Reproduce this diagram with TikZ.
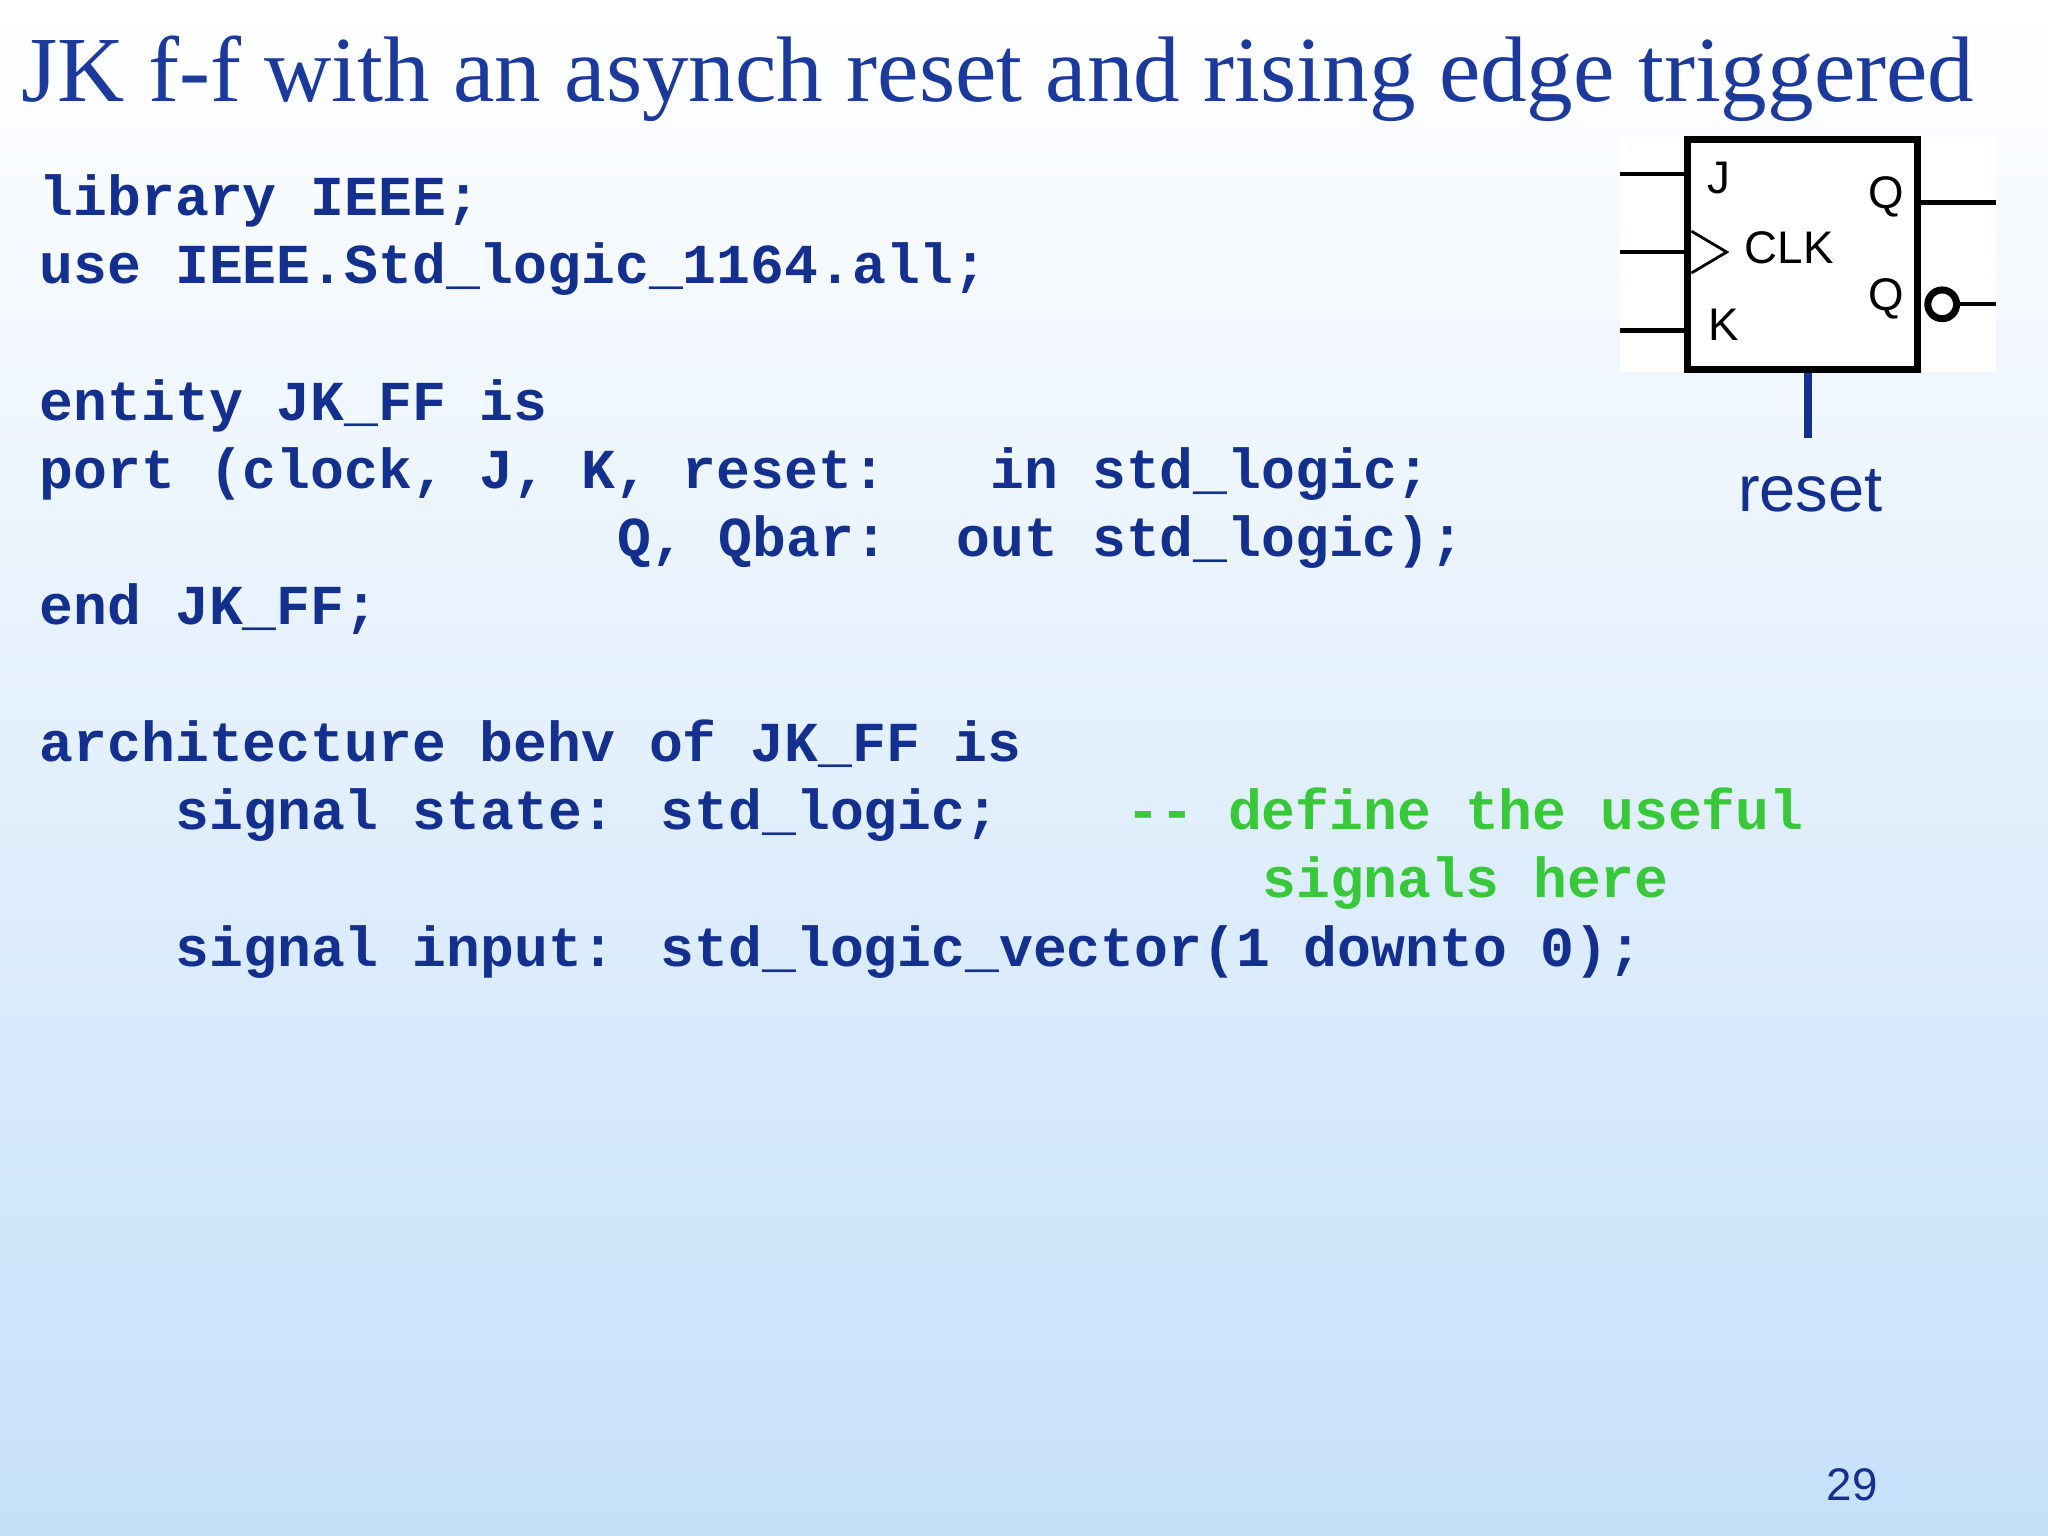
\documentclass[tikz,border=0pt]{standalone}
\usepackage{fontspec}
\setmainfont{Liberation Serif}
\newfontfamily\codefont{Liberation Mono}
\newfontfamily\sansf{Liberation Sans}
\definecolor{navy}{HTML}{14308F}
\definecolor{ttl}{HTML}{1C3A9C}
\definecolor{cmt}{HTML}{38C83A}
\definecolor{bgb}{HTML}{C6E0FA}
\begin{document}
\begin{tikzpicture}[x=0.01306cm,y=-0.01306cm,
  code/.style={anchor=base west,inner sep=0,font=\codefont\bfseries\fontsize{16.05pt}{18pt}\selectfont,text=navy},
  comment/.style={code,text=cmt},
  ffline/.style={line width=1.2pt,black}]
\useasboundingbox (0,0) rectangle (1568,1176);
\shade[top color=white,bottom color=bgb] (0,0) rectangle (1568,1176);
\node[anchor=base west,inner sep=0,text=ttl,font=\fontsize{26.5pt}{30pt}\selectfont] (title) at (16,78) {JK f-f with an asynch reset and rising edge triggered};
\newcommand{\cl}[4][code]{\node[#1] at (30+26*#2,#3) {\obeyspaces\detokenize{#4}};}
\cl{0}{165}{library IEEE;}
\cl{0}{217}{use IEEE.Std_logic_1164.all;}
\cl{0}{322}{entity JK_FF is}
\cl{0}{374}{port (clock, J, K, reset:}
\cl{28}{374}{in std_logic;}
\cl{17}{426}{Q, Qbar:}
\cl{27}{426}{out std_logic);}
\cl{0}{478}{end JK_FF;}
\cl{0}{583}{architecture behv of JK_FF is}
\cl{4}{635}{signal state: std_logic;}
\cl[comment]{32}{635}{-- define the useful}
\cl[comment]{36}{687}{signals here}
\cl{4}{740}{signal input: std_logic_vector(1 downto 0);}
% flip-flop
\fill[white] (1240,105) rectangle (1528,285);
\node[draw,line width=2pt,minimum width=176*0.01306cm,minimum height=176*0.01306cm,inner sep=0] (ff) at (1380,195) {};
\coordinate (jin) at (1240,133); \coordinate (cin) at (1240,193); \coordinate (kin) at (1240,253);
\draw[ffline] (jin) -- (jin -| ff.west);
\draw[ffline] (cin) -- (cin -| ff.west);
\draw[ffline] (kin) -- (kin -| ff.west);
\draw[line width=0.8pt] (1295,177) -- (1322,193) -- (1295,209);
\node[font=\sansf\fontsize{13pt}{15pt}\selectfont] (lj) at (1316,136) {J};
\node[font=\sansf\fontsize{13pt}{15pt}\selectfont] (lclk) at (1370,190) {CLK};
\node[font=\sansf\fontsize{13pt}{15pt}\selectfont] (lk) at (1320,249) {K};
\node[font=\sansf\fontsize{13pt}{15pt}\selectfont] (lq) at (1444,151) {Q};
\node[font=\sansf\fontsize{13pt}{15pt}\selectfont] (lqb) at (1444,229) {Q};
\coordinate (qout) at (1528,155);
\draw[ffline] (qout -| ff.east) -- (qout);
\node[draw,circle,line width=2pt,minimum size=22*0.01306cm,inner sep=0] (bub) at (1487,233) {};
\coordinate (qbout) at (1528,233);
\draw[ffline] (bub.east) -- (qbout);
\coordinate (rtop) at (1384,335);
\draw[navy,line width=2.2pt] (rtop |- ff.south) -- (rtop);
\node[anchor=base,inner sep=0,text=navy,font=\sansf\fontsize{18.5pt}{20pt}\selectfont] (rst) at (1386,392) {reset};
\node[anchor=base,inner sep=0,text=navy,font=\sansf\fontsize{13pt}{15pt}\selectfont] (pg) at (1418,1149) {29};
\end{tikzpicture}
\end{document}
